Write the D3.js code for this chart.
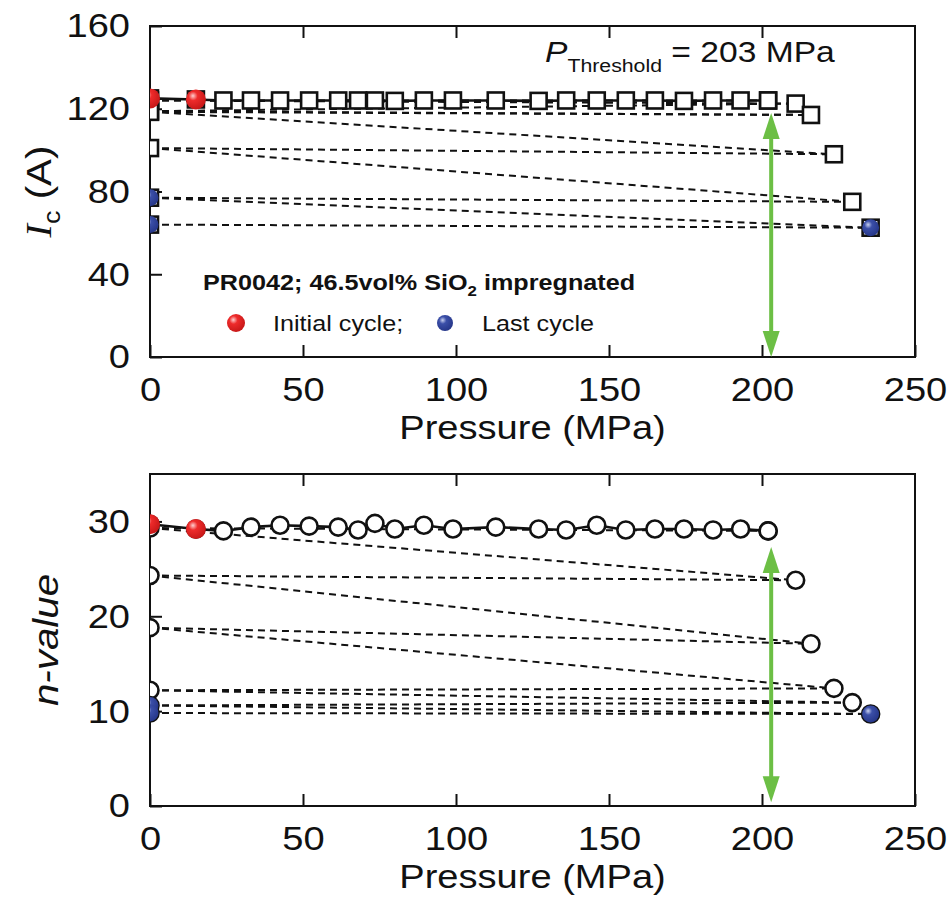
<!DOCTYPE html>
<html>
<head>
<meta charset="utf-8">
<script src="https://cdn.jsdelivr.net/npm/d3@7"></script>
<style>
  body { margin: 0; background: #fff; }
  svg { display: block; }
  text { font-family: "Liberation Sans", Arial, Helvetica, sans-serif; fill: #111; }
</style>
</head>
<body>
<svg id="chart" width="949" height="902"></svg>
<script>
// ---- data -------------------------------------------------------------
// Monotonic loading sequence (solid line): pressure in MPa
const loadP  = [0, 15, 24, 33, 42.5, 52, 61.5, 68, 73.5, 80, 89.5, 99, 113, 127, 136, 146, 155.5, 165, 174.5, 184, 193, 202];
const loadIc = [125, 124.5, 124, 124, 124, 124, 124, 124, 124, 123.8, 124, 124, 124, 123.8, 124, 124, 124, 124, 123.8, 124, 124, 124];
const loadN  = [29.7, 29.2, 29.0, 29.4, 29.6, 29.5, 29.4, 29.1, 29.8, 29.2, 29.6, 29.2, 29.4, 29.2, 29.1, 29.6, 29.1, 29.2, 29.2, 29.1, 29.2, 29.0];

// Load / unload cycles beyond the threshold (dashed line)
const cycleP  = [202, 0, 211, 0, 216, 0, 223.5, 0, 229.5, 0, 235.5, 0];
const cycleIc = [124, 124, 122.5, 118.8, 117, 118.5, 98, 101, 75, 77, 62.5, 64];
const cycleN  = [29.0, 29.3, 23.8, 24.3, 17.1, 18.8, 12.4, 12.2, 10.9, 10.6, 9.7, 9.8];

// Which points belong to the initial / last cycle
const initialIdx = [0, 1];          // indices into the loading sequence
const lastIdx    = [9, 10, 11];     // indices into the cycle sequence

const xTicks  = [0, 50, 100, 150, 200, 250];
const icTicks = [0, 40, 80, 120, 160];
const nTicks  = [0, 10, 20, 30];

const thresholdP = 203;
const arrowIc = [118, 0];
const arrowN  = [27.3, 0.4];

// ---- layout -----------------------------------------------------------
const svg = d3.select("#chart");
const X0 = 150, X1 = 915;
const x = d3.scaleLinear().domain([0, 250]).range([X0, X1]);

const panels = [
  { key: "ic", top: 26,  bottom: 357, domain: [0, 160], ticks: icTicks, vals: [loadIc, cycleIc], arrow: arrowIc, marker: "square" },
  { key: "n",  top: 474, bottom: 806, domain: [0, 35],  ticks: nTicks,  vals: [loadN, cycleN],   arrow: arrowN,  marker: "circle" }
];

// sphere gradients
const defs = svg.append("defs");
function sphere(id, hi, mid, lo) {
  const g = defs.append("radialGradient").attr("id", id)
    .attr("cx", "38%").attr("cy", "35%").attr("r", "65%").attr("fx", "35%").attr("fy", "32%");
  g.append("stop").attr("offset", "0%").attr("stop-color", hi);
  g.append("stop").attr("offset", "35%").attr("stop-color", mid);
  g.append("stop").attr("offset", "100%").attr("stop-color", lo);
}
sphere("redBall", "#ffd0d0", "#ee2b2b", "#c81818");
sphere("blueBall", "#c8d0f0", "#3b4fa8", "#26378a");

const green = "#6cbf45";
const tickFont = 34, stretch = 1.12;

panels.forEach((p, pi) => {
  const y = d3.scaleLinear().domain(p.domain).range([p.bottom, p.top]);
  const g = svg.append("g");

  const clipId = "clip-" + p.key;
  defs.append("clipPath").attr("id", clipId)
    .append("rect").attr("x", X0).attr("y", p.top - 20).attr("width", X1 - X0).attr("height", p.bottom - p.top + 20);

  // axes with inward ticks
  const bottomAxis = d3.axisBottom(x).tickValues(xTicks).tickSize(-12).tickPadding(20).tickFormat(d3.format("d"));
  const topAxis = d3.axisTop(x).tickValues(xTicks.slice(1, -1)).tickSize(-12).tickFormat("");
  const leftAxis = d3.axisLeft(y).tickValues(p.ticks).tickSize(-12).tickPadding(20).tickFormat(d3.format("d"));

  const styleAxis = sel => {
    sel.select(".domain").remove();
    sel.selectAll(".tick line").attr("stroke", "#111").attr("stroke-width", 2);
    sel.selectAll(".tick text").attr("font-size", tickFont).attr("fill", "#111");
  };
  const ax1 = g.append("g").attr("transform", `translate(0,${p.bottom})`).call(bottomAxis).call(styleAxis);
  ax1.selectAll(".tick text").attr("transform", `scale(${stretch},1)`);
  g.append("g").attr("transform", `translate(0,${p.top})`).call(topAxis).call(styleAxis);
  const ax3 = g.append("g").attr("transform", `translate(${X0},0)`).call(leftAxis).call(styleAxis);
  ax3.selectAll(".tick text").attr("transform", `translate(-20,0) scale(${stretch},1)`).attr("x", 0);

  // frame
  g.append("rect").attr("x", X0).attr("y", p.top).attr("width", X1 - X0).attr("height", p.bottom - p.top)
    .attr("fill", "none").attr("stroke", "#111").attr("stroke-width", 2);

  const plot = g.append("g").attr("clip-path", `url(#${clipId})`);
  const [loadV, cycV] = p.vals;
  const loadPts = loadP.map((v, i) => [v, loadV[i]]);
  const cycPts = cycleP.map((v, i) => [v, cycV[i]]);
  const line = d3.line().x(d => x(d[0])).y(d => y(d[1]));

  // each load/unload leg is drawn from its zero-pressure end so dash phases line up
  const legs = d3.pairs(cycPts).map(([a, b]) => a[0] <= b[0] ? [a, b] : [b, a]);
  plot.selectAll("path.leg").data(legs).join("path").attr("class", "leg")
    .attr("d", line).attr("fill", "none")
    .attr("stroke", "#111").attr("stroke-width", 2).attr("stroke-dasharray", "7,5");
  plot.append("path").attr("d", line(loadPts)).attr("fill", "none")
    .attr("stroke", "#111").attr("stroke-width", 2.6);

  // open markers
  const allPts = loadPts.concat(cycPts);
  if (p.marker === "square") {
    plot.selectAll("rect.m").data(allPts).join("rect").attr("class", "m")
      .attr("x", d => x(d[0]) - 8).attr("y", d => y(d[1]) - 8).attr("width", 16).attr("height", 16)
      .attr("fill", "#fff").attr("stroke", "#111").attr("stroke-width", 2.6);
  } else {
    plot.selectAll("circle.m").data(allPts).join("circle").attr("class", "m")
      .attr("cx", d => x(d[0])).attr("cy", d => y(d[1])).attr("r", 8.5)
      .attr("fill", "#fff").attr("stroke", "#111").attr("stroke-width", 2.6);
  }

  // initial / last cycle spheres
  plot.selectAll("circle.init").data(initialIdx.map(i => loadPts[i])).join("circle").attr("class", "init")
    .attr("cx", d => x(d[0])).attr("cy", d => y(d[1])).attr("r", 10).attr("fill", "url(#redBall)");
  plot.selectAll("circle.last").data(lastIdx.map(i => cycPts[i])).join("circle").attr("class", "last")
    .attr("cx", d => x(d[0])).attr("cy", d => y(d[1])).attr("r", 8.5).attr("fill", "url(#blueBall)");

  // threshold double arrow
  const ax = x(thresholdP), yTop = y(p.arrow[0]), yBot = y(p.arrow[1]);
  const hl = 26, hw = 8.5;
  g.append("line").attr("x1", ax).attr("x2", ax).attr("y1", yTop + hl - 2).attr("y2", yBot - hl + 2)
    .attr("stroke", green).attr("stroke-width", 4);
  g.append("path").attr("d", `M${ax},${yTop} L${ax - hw},${yTop + hl} L${ax + hw},${yTop + hl} Z`).attr("fill", green);
  g.append("path").attr("d", `M${ax},${yBot} L${ax - hw},${yBot - hl} L${ax + hw},${yBot - hl} Z`).attr("fill", green);

  // x axis title
  g.append("text").attr("transform", `translate(${(X0 + X1) / 2},${p.bottom + 82}) scale(${stretch},1)`)
    .attr("text-anchor", "middle").attr("font-size", 34).text("Pressure (MPa)");
});

// y axis titles
const ic = svg.append("text").attr("transform", `translate(51,${(26 + 357) / 2}) rotate(-90) scale(${stretch},1)`)
  .attr("text-anchor", "middle").attr("font-size", 36);
ic.append("tspan").attr("font-style", "italic").attr("font-family", "'Liberation Serif', 'Times New Roman', serif").text("I");
ic.append("tspan").attr("font-size", 24).attr("dy", 9).text("c");
ic.append("tspan").attr("dy", -9).text(" (A)");

svg.append("text").attr("transform", `translate(58,${(474 + 806) / 2}) rotate(-90) scale(${stretch},1)`)
  .attr("text-anchor", "middle").attr("font-size", 36).attr("font-style", "italic").text("n-value");

// threshold label
const th = svg.append("text").attr("transform", `translate(545,62) scale(${stretch},1)`).attr("font-size", 30);
th.append("tspan").attr("font-style", "italic").text("P");
th.append("tspan").attr("font-size", 19).attr("dy", 10).text("Threshold");
th.append("tspan").attr("dy", -10).text(" = 203 MPa");

// legend
const lg = svg.append("g");
const t1 = lg.append("text").attr("transform", `translate(203,290) scale(${stretch},1)`)
  .attr("font-size", 22.5).attr("font-weight", "bold");
t1.append("tspan").text("PR0042; 46.5vol% SiO");
t1.append("tspan").attr("font-size", 15).attr("dy", 6).text("2");
t1.append("tspan").attr("dy", -6).text(" impregnated");

lg.append("circle").attr("cx", 236).attr("cy", 323).attr("r", 9).attr("fill", "url(#redBall)");
lg.append("text").attr("transform", `translate(273,331) scale(${stretch},1)`).attr("font-size", 22.5).text("Initial cycle;");
lg.append("circle").attr("cx", 445).attr("cy", 323).attr("r", 8).attr("fill", "url(#blueBall)");
lg.append("text").attr("transform", `translate(482,331) scale(${stretch},1)`).attr("font-size", 22.5).text("Last cycle");
</script>
</body>
</html>
